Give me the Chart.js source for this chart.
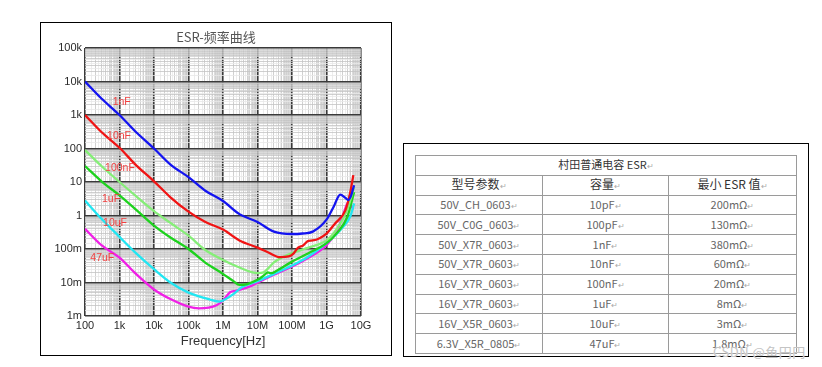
<!DOCTYPE html>
<html><head><meta charset="utf-8">
<script src="https://cdn.jsdelivr.net/npm/chart.js"></script>
<style>
html,body{margin:0;padding:0;background:#fff;width:822px;height:367px;overflow:hidden;}
#frameL{position:absolute;left:40px;top:22px;width:352px;height:334px;border:1px solid #000;box-sizing:border-box;}
#frameR{position:absolute;left:403px;top:143px;width:406px;height:214px;border:1px solid #000;box-sizing:border-box;}
#cv{position:absolute;left:0;top:0;}
#tbl{position:absolute;left:415px;top:155px;border-collapse:collapse;font-family:"Noto Sans CJK SC","Noto Sans",sans-serif;font-size:11px;color:#666;table-layout:fixed;}
#tbl tr{height:19.8px;}
#tbl td{border:1px solid #9a9a9a;padding:0;text-align:center;line-height:12px;white-space:nowrap;overflow:hidden;}
#tbl .hd{color:#333;}
.m{font-size:8px;color:#aaa;}
#wm{position:absolute;left:713px;top:342px;font-family:"Noto Sans CJK SC",sans-serif;font-size:13px;color:#c4c4c4;letter-spacing:0.5px;text-shadow:0 0 1px #fff;}
</style>
</head><body>
<div id="frameL"></div>
<div id="frameR"></div>
<canvas id="cv" width="400" height="367"></canvas>
<table id="tbl"></table>
<div id="wm">CSDN @鱼円円</div>
<script>
// ---- chart data ----
const chartTitle = 'ESR-频率曲线';
const xTitle = 'Frequency[Hz]';
const xDecades = [1e2,1e3,1e4,1e5,1e6,1e7,1e8,1e9,1e10];
const xTickLabels = ['100','1k','10k','100k','1M','10M','100M','1G','10G'];
const yDecades = [1e-3,1e-2,1e-1,1,10,100,1e3,1e4,1e5];
const yTickLabels = ['1m','10m','100m','1','10','100','1k','10k','100k'];

const seriesNames = ['1nF','10nF','100nF','1uF','10uF','47uF'];

const freq1nF = [100,300,1e3,3e3,1e4,3e4,1e5,3e5,1e6,3e6,1e7,3e7,1e8,2e8,4e8,1e9,1.6e9,2.5e9,3.5e9,4.3e9,5.2e9,6.3e9];
const esr1nF  = [10000,3100,1000,310,100,33,14,5.6,2.7,1.1,0.64,0.33,0.28,0.29,0.33,0.75,1.8,4.2,3.4,2.9,4,8];

const freq10nF = [100,300,1e3,3e3,1e4,3e4,1e5,3e5,1e6,3e6,1e7,2e7,4.5e7,8e7,1.1e8,1.5e8,2.1e8,3e8,4e8,1e9,1.8e9,3.5e9,4.8e9,6e9];
const esr10nF  = [1000,310,105,32,10.5,3.5,1.3,0.65,0.38,0.18,0.11,0.08,0.057,0.06,0.073,0.11,0.128,0.175,0.18,0.29,0.59,1.4,4.5,16];

const freq100nF = [100,300,1e3,3e3,1e4,3e4,1e5,3e5,1e6,3e6,1e7,1.5e7,2e7,3e7,5e7,1e8,3e8,1e9,2e9,4e9,6.3e9];
const esr100nF  = [90,30,10,3.8,1.35,0.6,0.25,0.095,0.047,0.028,0.019,0.02,0.026,0.04,0.055,0.075,0.11,0.18,0.4,1.5,7];

const freq1uF = [100,300,1e3,3e3,1e4,3e4,1e5,3e5,1e6,2e6,3e6,5e6,1e7,1.5e7,2e7,2.5e7,3.5e7,1e8,3e8,1e9,2e9,4e9,6.3e9];
const esr1uF  = [30,10.5,4,1.5,0.5,0.22,0.1,0.04,0.018,0.011,0.0085,0.009,0.012,0.016,0.02,0.019,0.022,0.042,0.075,0.15,0.3,0.9,5];

const freq10uF = [100,300,1e3,3e3,1e4,3e4,1e5,4.2e5,8e5,1e6,2e6,3.5e6,6e6,1e7,3e7,1e8,3e8,1e9,3e9,5e9,6.3e9];
const esr10uF  = [2.8,0.8,0.23,0.075,0.025,0.01,0.005,0.0031,0.0027,0.0029,0.0045,0.0072,0.0091,0.011,0.018,0.032,0.06,0.15,0.45,1,2.3];

const freq47uF = [100,300,1e3,3e3,1e4,3e4,1e5,2e5,6.5e5,1e6,1.6e6,2.3e6,3.5e6,6e6,1e7,3e7,1e8,3e8,1e9,2e9,3e9,4.3e9,6e9];
const esr47uF  = [0.4,0.13,0.055,0.018,0.0062,0.0032,0.0019,0.0017,0.0021,0.0029,0.0051,0.0056,0.0063,0.0076,0.0099,0.017,0.03,0.055,0.13,0.35,1,2.5,1.5];

// label anchors (frequency, ESR) for the red curve names
const labelFreq = [1160,968,1033,567,741,317];
const labelEsr  = [2350,236,26,3.0,0.6,0.055];

const seriesColors = ['#1414f0','#f01414','#86ee78','#1ed21e','#22e6f2','#f020e6'];

// ---- table data ----
const tableTitle = '村田普通电容 ESR';
const tableHeaders = ['型号参数','容量','最小 ESR 值'];
const models = ['50V_CH_0603','50V_C0G_0603','50V_X7R_0603','50V_X7R_0603','16V_X7R_0603','16V_X7R_0603','16V_X5R_0603','6.3V_X5R_0805'];
const capacities = ['10pF','100pF','1nF','10nF','100nF','1uF','10uF','47uF'];
const minEsr = ['200mΩ','130mΩ','380mΩ','60mΩ','20mΩ','8mΩ','3mΩ','1.8mΩ'];

// build table
(function(){
  const t = document.getElementById('tbl');
  const mark = '<span class="m">↵</span>';
  let h = '<colgroup><col style="width:127px"><col style="width:126px"><col style="width:128px"></colgroup>';
  h += '<tr><td colspan="3" class="hd">' + tableTitle + mark + '</td></tr>';
  h += '<tr>' + tableHeaders.map(s=>'<td class="hd" style="font-size:12px">'+s+mark+'</td>').join('') + '</tr>';
  for (let i=0;i<models.length;i++){
    h += '<tr><td>'+models[i]+mark+'</td><td>'+capacities[i]+mark+'</td><td>'+minEsr[i]+mark+'</td></tr>';
  }
  t.innerHTML = h;
})();

// grid tick values
function gridVals(decades){
  const out=[];
  for (let i=0;i<decades.length-1;i++){
    const d=decades[i];
    for (let n=1;n<10;n+=0.5) out.push(d*n);
  }
  out.push(decades[decades.length-1]);
  return out;
}
const mant = v => v/Math.pow(10,Math.floor(Math.log10(v)+1e-9));
const isMajor = v => Math.abs(Math.log10(v)-Math.round(Math.log10(v)))<1e-9;
function gridColor(ctx){
  if (!ctx.tick) return '#ddd';
  const v=ctx.tick.value;
  if (isMajor(v)) return '#3a3a3a';
  const m=mant(v);
  if (Math.abs(m-Math.round(m))<1e-6) return '#c4c4c4';
  return m>5 ? '#d2d2d2' : '#e8e8e8';
}
function gridWidth(ctx){
  return (ctx.tick && isMajor(ctx.tick.value)) ? 1.6 : 0.8;
}
function labelOf(v, decs, labs){
  for (let i=0;i<decs.length;i++){ if (Math.abs(Math.log10(v)-Math.log10(decs[i]))<1e-9) return labs[i]; }
  return '';
}
const allFreq=[freq1nF,freq10nF,freq100nF,freq1uF,freq10uF,freq47uF];
const allEsr=[esr1nF,esr10nF,esr100nF,esr1uF,esr10uF,esr47uF];

const datasets = seriesNames.map((n,i)=>({
  label:n,
  data: allFreq[i].map((f,j)=>({x:f,y:allEsr[i][j]})),
  borderColor: seriesColors[i],
  borderWidth: 2.3,
  pointRadius: 0,
  fill:false,
  cubicInterpolationMode:'monotone'
}));

const annot = {
  id:'annot',
  afterDraw(chart){
    const c=chart.ctx, xs=chart.scales.x, ys=chart.scales.y;
    c.save();
    c.fillStyle='#555';
    c.font='13px "Noto Sans CJK SC", sans-serif';
    c.textAlign='center'; c.textBaseline='middle';
    c.fillText(chartTitle, 216, 37);
    c.fillStyle='#f04040';
    c.font='10.5px "Liberation Sans", Arial, sans-serif';
    for (let i=0;i<seriesNames.length;i++){
      c.fillText(seriesNames[i], xs.getPixelForValue(labelFreq[i]), ys.getPixelForValue(labelEsr[i]));
    }
    c.restore();
  }
};

const tickFont = {family:'"Liberation Sans", Arial, sans-serif', size:11};
new Chart(document.getElementById('cv'), {
  type:'line',
  data:{datasets},
  options:{
    responsive:false, animation:false, devicePixelRatio:1,
    layout:{padding:{left:40,right:39,top:48,bottom:18}},
    plugins:{legend:{display:false},tooltip:{enabled:false}},
    scales:{
      x:{
        type:'logarithmic', min:100, max:1e10,
        afterBuildTicks:s=>{s.ticks=gridVals(xDecades).map(v=>({value:v}));},
        afterFit:s=>{s.height=33;},
        ticks:{autoSkip:false,maxRotation:0,minRotation:0,padding:3,color:'#2a2a2a',font:tickFont,
          callback:(v)=>labelOf(v,xDecades,xTickLabels)},
        grid:{drawTicks:false,color:gridColor,lineWidth:gridWidth},
        border:{display:false},
        title:{display:true,text:xTitle,color:'#333',font:{family:'"Liberation Sans", Arial, sans-serif',size:13},padding:{top:2,bottom:0}}
      },
      y:{
        type:'logarithmic', min:1e-3, max:1e5,
        afterBuildTicks:s=>{s.ticks=gridVals(yDecades).map(v=>({value:v}));},
        afterFit:s=>{s.width=45;},
        ticks:{autoSkip:false,padding:3,color:'#2a2a2a',font:tickFont,
          callback:(v)=>labelOf(v,yDecades,yTickLabels)},
        grid:{drawTicks:false,color:gridColor,lineWidth:gridWidth},
        border:{display:false}
      }
    }
  },
  plugins:[annot]
});
</script>
</body></html>
